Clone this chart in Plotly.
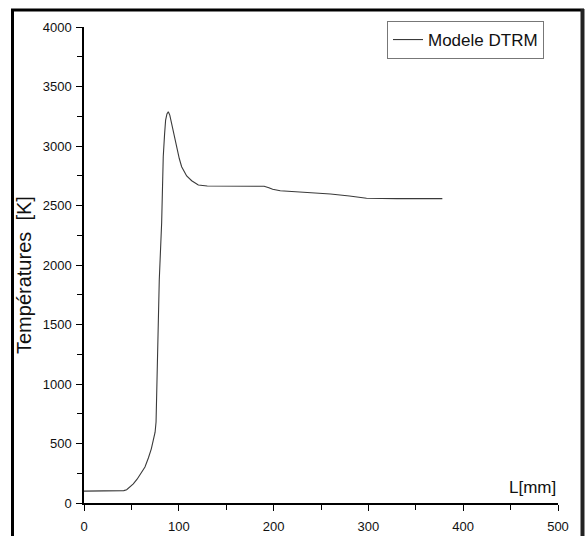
import plotly.graph_objects as go

L_mm = [0, 38, 42, 45, 48, 52, 56, 60, 64.3, 68, 71, 73.1, 75.0, 76.0, 76.7, 77.3, 78.3, 79.4, 81.9,
        83.6, 85.0, 86.1, 87.5, 88.9, 90.5, 92.4, 95.0, 97.7, 100.5, 103, 108.3, 113.6, 120.6, 130,
        160, 190, 195, 199, 207, 230, 260, 280, 298, 330, 378]
T_K = [100, 100, 104, 112, 130, 160, 200, 245, 303, 380, 455, 529, 595, 680, 900, 1313, 1600, 1874, 2353,
       2910, 3100, 3218, 3270, 3288, 3260, 3191, 3080, 2981, 2895, 2826, 2748, 2708, 2672, 2664,
       2664, 2662, 2650, 2636, 2624, 2615, 2597, 2580, 2561, 2558, 2558]

series_name = "Modele DTRM"
x_title = "L[mm]"
y_title = "Températures \u00a0[K]"

W, H = 586, 536
ml, mr, mt, mb = 84, 28, 27, 33
pw, ph = W - ml - mr, H - mt - mb

def px(xp):
    return (xp - ml) / pw

def py(yp):
    return (H - mb - yp) / ph

font = dict(family="Liberation Sans, Arial, sans-serif", color="#111111")

fig = go.Figure()
fig.add_trace(go.Scatter(x=L_mm, y=T_K, mode="lines", name=series_name,
                         line=dict(color="#3a3a3a", width=1.1)))

frame = dict(color="black", width=3)
fig.update_layout(
    width=W, height=H,
    margin=dict(l=ml, r=mr, t=mt, b=mb, autoexpand=False),
    paper_bgcolor="white", plot_bgcolor="white",
    font=dict(size=13, **font),
    showlegend=True,
    legend=dict(x=px(387), y=py(21), xanchor="left", yanchor="top",
                bordercolor="#777777", borderwidth=1, bgcolor="white",
                font=dict(size=17, **font), itemwidth=30,
                tracegroupgap=0),
    xaxis=dict(range=[0, 500], tickvals=[0, 100, 200, 300, 400, 500], automargin=False,
               showgrid=False, zeroline=False, showline=True, linecolor="black", linewidth=1.5,
               ticks="outside", ticklen=6, tickwidth=1.3, tickcolor="black",
               minor=dict(tickvals=[50, 150, 250, 350, 450], ticks="outside", ticklen=5,
                          tickwidth=1.3, tickcolor="black", showgrid=False),
               tickfont=dict(size=13, **font), ticklabelstandoff=5),
    yaxis=dict(range=[0, 4000], tickvals=[0, 500, 1000, 1500, 2000, 2500, 3000, 3500, 4000],
               automargin=False,
               showgrid=False, zeroline=False, showline=True, linecolor="black", linewidth=1.5,
               ticks="outside", ticklen=6, tickwidth=1.3, tickcolor="black",
               minor=dict(tickvals=[250, 750, 1250, 1750, 2250, 2750, 3250, 3750], ticks="outside",
                          ticklen=5, tickwidth=1.3, tickcolor="black", showgrid=False),
               tickfont=dict(size=13, **font), ticklabelstandoff=2),
    annotations=[
        dict(text=x_title, xref="x", yref="paper", x=500, y=0, xanchor="right", yanchor="bottom",
             yshift=4, showarrow=False, font=dict(size=17, **font)),
        dict(text=y_title, xref="paper", yref="paper", x=px(24), y=py(275), xanchor="center",
             yanchor="middle", textangle=-90, showarrow=False, font=dict(size=20, **font)),
    ],
    shapes=[
        dict(type="line", xref="paper", yref="paper", x0=px(12.5), x1=px(12.5), y0=py(9), y1=py(560), line=frame),
        dict(type="line", xref="paper", yref="paper", x0=px(11), x1=px(584), y0=py(10), y1=py(10), line=frame),
        dict(type="line", xref="paper", yref="paper", x0=px(582.5), x1=px(582.5), y0=py(9), y1=py(560),
             line=dict(color="#222222", width=4)),
    ],
)

fig.write_html("out.html", config={"displayModeBar": False},
               post_script="document.body.style.margin='0';document.body.style.overflow='hidden';")
